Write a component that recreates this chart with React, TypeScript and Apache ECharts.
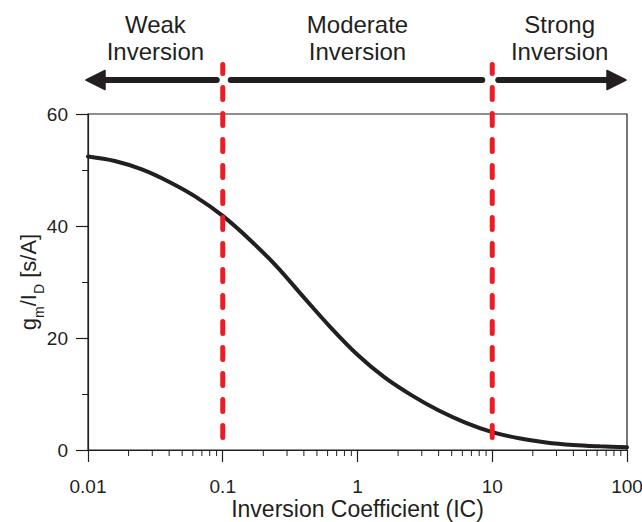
import React, { useEffect, useRef } from "react";
import * as echarts from "echarts";

// Inversion coefficient (x) and gm/ID in s/A (y)
const icValues = [0.01, 0.0158, 0.0251, 0.0398, 0.0631, 0.1, 0.158, 0.251, 0.398, 0.631, 1, 1.58, 2.51, 3.98, 6.31, 10, 15.8, 25.1, 39.8, 63.1, 100];
const gmIdValues = [52.4, 51.6, 50.1, 47.9, 45.2, 41.8, 37.6, 32.8, 27.3, 21.9, 17.0, 13.0, 9.8, 7.1, 4.9, 3.2, 2.1, 1.35, 0.9, 0.65, 0.48];

const xTickLabels = ["0.01", "0.1", "1", "10", "100"];
const xDecades = [0.01, 0.1, 1, 10];
const minorMultipliers = [2, 3, 4, 5, 6, 7, 8, 9];
const regionBounds = [0.1, 10];
const regionNames = ["Weak\nInversion", "Moderate\nInversion", "Strong\nInversion"];
const xTitle = "Inversion Coefficient (IC)";

const FONT = "'Liberation Sans', Arial, Helvetica, sans-serif";
const DARK = "#231f20";
const RED = "#ed1c24";

export default function App() {
  const ref = useRef<HTMLDivElement>(null);

  useEffect(() => {
    document.body.style.margin = "0";
    const chart = echarts.init(ref.current!, null, { renderer: "svg" });
    chart.setOption({
      animation: false,
      grid: {
        left: 88,
        right: 15,
        top: 114,
        bottom: 72,
        show: true,
        containLabel: false,
        outerBoundsMode: "none",
        borderColor: DARK,
        borderWidth: 1.2,
        backgroundColor: "transparent",
      },
      xAxis: {
        type: "log",
        logBase: 10,
        min: 0.01,
        max: 100,
        axisLine: { lineStyle: { color: DARK, width: 1.2 } },
        axisTick: { show: true, length: 12, interval: 0, lineStyle: { color: DARK, width: 1.2 } },
        axisLabel: {
          interval: 0,
          margin: 27,
          fontFamily: FONT,
          fontSize: 19,
          color: DARK,
          formatter: (v: number) => xTickLabels[Math.round(Math.log10(v)) + 2],
        },
        splitLine: { show: false },
      },
      yAxis: {
        type: "value",
        min: 0,
        max: 60,
        interval: 20,
        axisLine: { show: true, lineStyle: { color: DARK, width: 1.2 } },
        axisTick: { show: true, length: 12, lineStyle: { color: DARK, width: 1.2 } },
        minorTick: { show: true, splitNumber: 2, length: 6, lineStyle: { color: DARK, width: 1 } },
        axisLabel: { margin: 20, fontFamily: FONT, fontSize: 19, color: DARK },
        splitLine: { show: false },
        minorSplitLine: { show: false },
      },
      series: [
        {
          type: "line",
          data: icValues.map((x, i) => [x, gmIdValues[i]]),
          showSymbol: false,
          smooth: 0.35,
          lineStyle: { color: DARK, width: 4, cap: "round" },
          z: 3,
        },
      ],
    });

    const px = (v: number) => chart.convertToPixel({ xAxisIndex: 0 }, v) as number;
    const py = (v: number) => chart.convertToPixel({ yAxisIndex: 0 }, v) as number;
    const xLeft = px(0.01);
    const xRight = px(100);
    const xb = regionBounds.map(px);
    const yBottom = py(0);
    const yTop = py(60);
    const arrowY = 80;

    const elements: any[] = [];
    // minor log ticks on x axis
    xDecades.forEach((d) => {
      minorMultipliers.forEach((m) => {
        const x = px(d * m);
        elements.push({
          type: "line",
          shape: { x1: x, y1: yBottom, x2: x, y2: yBottom + 6 },
          style: { stroke: DARK, lineWidth: 1 },
          z: 10,
        });
      });
    });
    // x axis title
    elements.push({
      type: "text",
      x: (xLeft + xRight) / 2,
      y: 509,
      style: {
        text: xTitle,
        align: "center",
        verticalAlign: "middle",
        fill: DARK,
        fontFamily: FONT,
        fontSize: 23,
      },
      z: 20,
    });
    // y axis title with subscripts
    elements.push({
      type: "text",
      x: 30,
      y: (yTop + yBottom) / 2,
      rotation: Math.PI / 2,
      style: {
        text: "{n|g}{s|m}{n|/I}{s|D}{n| [s/A]}",
        align: "center",
        verticalAlign: "middle",
        fill: DARK,
        fontFamily: FONT,
        fontSize: 22,
        rich: {
          n: { fontFamily: FONT, fontSize: 22, fill: DARK, lineHeight: 26, verticalAlign: "top" },
          s: { fontFamily: FONT, fontSize: 14, fill: DARK, lineHeight: 14, verticalAlign: "top", padding: [15, 0, 0, 0] },
        },
      },
      z: 20,
    });
    // arrow shafts
    const shafts = [
      [xLeft + 14, xb[0] - 6],
      [xb[0] + 8, xb[1] - 10],
      [xb[1] + 6, xRight - 14],
    ];
    shafts.forEach(([a, b]) => {
      elements.push({
        type: "line",
        shape: { x1: a, y1: arrowY, x2: b, y2: arrowY },
        style: { stroke: DARK, lineWidth: 6, lineCap: "round" },
        z: 20,
      });
    });
    // arrow heads
    elements.push({
      type: "polygon",
      shape: { points: [[xLeft - 2, arrowY], [xLeft + 17, arrowY - 9.5], [xLeft + 17, arrowY + 9.5]] },
      style: { fill: DARK, stroke: DARK, lineWidth: 1.5, lineJoin: "round" },
      z: 20,
    });
    elements.push({
      type: "polygon",
      shape: { points: [[xRight - 1, arrowY], [xRight - 20, arrowY - 9.5], [xRight - 20, arrowY + 9.5]] },
      style: { fill: DARK, stroke: DARK, lineWidth: 1.5, lineJoin: "round" },
      z: 20,
    });
    // red dashed boundaries
    xb.forEach((x) => {
      elements.push({
        type: "line",
        shape: { x1: x, y1: 64.5, x2: x, y2: yBottom - 2 },
        style: { stroke: RED, lineWidth: 5, lineDash: [12, 14], lineDashOffset: 3, lineCap: "round" },
        z: 30,
      });
    });
    // region labels
    const edges = [xLeft, xb[0], xb[1], xRight];
    regionNames.forEach((t, i) => {
      elements.push({
        type: "text",
        x: (edges[i] + edges[i + 1]) / 2,
        y: 11,
        style: {
          text: t,
          fontFamily: FONT,
          fontSize: 24,
          lineHeight: 27,
          fill: DARK,
          align: "center",
          verticalAlign: "top",
        },
        z: 20,
      });
    });

    chart.setOption({ graphic: { elements } });

    return () => chart.dispose();
  }, []);

  return <div ref={ref} style={{ width: 642, height: 522 }} />;
}
